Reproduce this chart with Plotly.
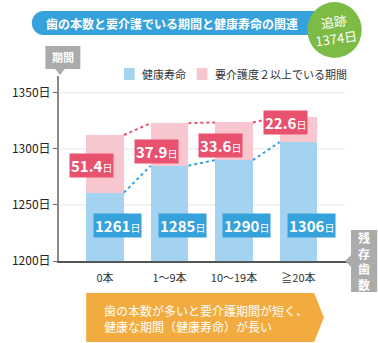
import plotly.graph_objects as go

categories = ["0本", "1～9本", "10～19本", "≧20本"]
healthy_days = [1261, 1285, 1290, 1306]
care_days = [51.4, 37.9, 33.6, 22.6]
y_tick_vals = [1200, 1250, 1300, 1350]
y_tick_text = ["1200日", "1250日", "1300日", "1350日"]

W, H = 378, 343
ML, MR, MT, MB = 50, 26, 76, 82
PW, PH = W - ML - MR, H - MT - MB
FONT = "Noto Sans CJK JP"
BLUE_BAR = "#a3d3f1"
PINK_BAR = "#f8c6cf"
PINK = "#e9526f"
BLUE = "#36a2dc"
GRAY = "#ababab"

def px(x):
    return (x - ML) / PW

def py(y):
    return 1 - (y - MT) / PH

xs = list(range(len(categories)))
bw = 0.585

fig = go.Figure()
fig.add_trace(go.Bar(x=xs, y=healthy_days, width=bw, marker=dict(color=BLUE_BAR, line=dict(width=0)),
                     showlegend=False, hoverinfo="skip"))
fig.add_trace(go.Bar(x=xs, y=care_days, width=bw, marker=dict(color=PINK_BAR, line=dict(width=0)),
                     showlegend=False, hoverinfo="skip"))

tops = [h + c for h, c in zip(healthy_days, care_days)]
for i in range(len(xs) - 1):
    fig.add_trace(go.Scatter(x=[xs[i] + bw / 2, xs[i + 1] - bw / 2], y=[tops[i], tops[i + 1]],
                             mode="lines", line=dict(color=PINK, width=2, dash="dot"),
                             showlegend=False, hoverinfo="skip"))
    fig.add_trace(go.Scatter(x=[xs[i] + bw / 2, xs[i + 1] - bw / 2], y=[healthy_days[i], healthy_days[i + 1]],
                             mode="lines", line=dict(color=BLUE, width=2, dash="dot"),
                             showlegend=False, hoverinfo="skip"))

shapes = []
annotations = []

def note(x, y, text, size, color="white", xanchor="center", **kw):
    annotations.append(dict(x=px(x), y=py(y), xref="paper", yref="paper", showarrow=False,
                            xanchor=xanchor, yanchor="middle", text=text,
                            font=dict(family=FONT, size=size, color=color), **kw))

# gridlines
for v in y_tick_vals[1:]:
    shapes.append(dict(type="line", xref="x", yref="y", x0=-0.714, x1=3.71, y0=v, y1=v,
                       line=dict(color="#e6e6e6", width=1), layer="below"))

# value labels
pink_drop = [27.6, 25.6, 20.5, 5.0]
for i in xs:
    annotations.append(dict(
        x=xs[i] - 0.205, y=tops[i] - pink_drop[i], xref="x", yref="y", showarrow=False,
        xanchor="center", yanchor="middle",
        text=f"<b>{care_days[i]:.1f}</b><span style='font-size:10px'>日</span>",
        font=dict(family=FONT, size=15, color="white"), bgcolor=PINK, borderpad=1))
    annotations.append(dict(
        x=xs[i] + 0.2, y=1231.3, xref="x", yref="y", showarrow=False,
        xanchor="center", yanchor="middle",
        text=f"<b>{healthy_days[i]}</b><span style='font-size:10px'>日</span>",
        font=dict(family=FONT, size=15, color="white"), bgcolor=BLUE, borderpad=1))

# title pill
shapes.append(dict(type="circle", xref="paper", yref="paper", x0=px(22), x1=px(46), y0=py(35), y1=py(11),
                   fillcolor=BLUE, line=dict(width=0)))
shapes.append(dict(type="rect", xref="paper", yref="paper", x0=px(34), x1=px(322), y0=py(35), y1=py(11),
                   fillcolor=BLUE, line=dict(width=0)))
note(166, 23.5, "<b>歯の本数と要介護でいる期間と健康寿命の関連</b>", 12)
# green circle
shapes.append(dict(type="circle", xref="paper", yref="paper", x0=px(306), x1=px(362), y0=py(58), y1=py(2),
                   fillcolor="#7cbb46", line=dict(width=0)))
note(334, 29.5, "追跡<br>1374日", 13, textangle=-8)

# legend
shapes.append(dict(type="rect", xref="paper", yref="paper", x0=px(117), x1=px(128), y0=py(80), y1=py(68),
                   fillcolor=BLUE_BAR, line=dict(width=0)))
note(134, 74, "健康寿命", 11, color="#333", xanchor="left")
shapes.append(dict(type="rect", xref="paper", yref="paper", x0=px(192), x1=px(203), y0=py(80), y1=py(68),
                   fillcolor=PINK_BAR, line=dict(width=0)))
note(209, 74, "要介護度２以上でいる期間", 11, color="#333", xanchor="left")

# 期間 box
shapes.append(dict(type="rect", xref="paper", yref="paper", x0=px(36), x1=px(72), y0=py(69), y1=py(46),
                   fillcolor=GRAY, line=dict(width=0)))
shapes.append(dict(type="path", xref="paper", yref="paper",
                   path=f"M {px(46)} {py(69)} L {px(56)} {py(69)} L {px(51)} {py(75)} Z",
                   fillcolor=GRAY, line=dict(width=0)))
note(54, 57.5, "<b>期間</b>", 11)

# 残存歯数 box
shapes.append(dict(type="rect", xref="paper", yref="paper", x0=px(351), x1=px(378), y0=py(292), y1=py(230),
                   fillcolor=GRAY, line=dict(width=0)))
shapes.append(dict(type="path", xref="paper", yref="paper",
                   path=f"M {px(351)} {py(255)} L {px(351)} {py(267)} L {px(345)} {py(261)} Z",
                   fillcolor=GRAY, line=dict(width=0)))
note(364.5, 261, "<b>残<br>存<br>歯<br>数</b>", 12)

# orange arrow
shapes.append(dict(type="path", xref="paper", yref="paper",
                   path=(f"M {px(78)} {py(293)} L {px(313)} {py(293)} L {px(323)} {py(317.5)} "
                         f"L {px(313)} {py(342)} L {px(78)} {py(342)} Z"),
                   fillcolor="#f2ab3e", line=dict(width=0)))
note(94, 318, "歯の本数が多いと要介護期間が短く、<br>健康な期間（健康寿命）が長い", 12,
     xanchor="left", align="left")

fig.update_layout(
    width=W, height=H, barmode="stack", bargap=0,
    margin=dict(l=ML, r=MR, t=MT, b=MB),
    paper_bgcolor="white", plot_bgcolor="white",
    font=dict(family=FONT, size=12, color="#222"),
    shapes=shapes, annotations=annotations,
    xaxis=dict(range=[-0.714, 3.83], tickvals=xs, ticktext=categories, showgrid=False, zeroline=False,
               showline=True, linecolor="#555", linewidth=1.5, ticks="outside", ticklen=6, tickcolor="white",
               tickfont=dict(family=FONT, size=11, color="#333"), fixedrange=True),
    yaxis=dict(range=[1200, 1365], tickvals=y_tick_vals, ticktext=y_tick_text, showgrid=False, zeroline=False,
               showline=True, linecolor="#8a8a8a", linewidth=2, ticks="outside", ticklen=4, tickcolor="#666",
               tickfont=dict(family=FONT, size=12, color="#222"), fixedrange=True),
)

fig.write_html("out.html")
